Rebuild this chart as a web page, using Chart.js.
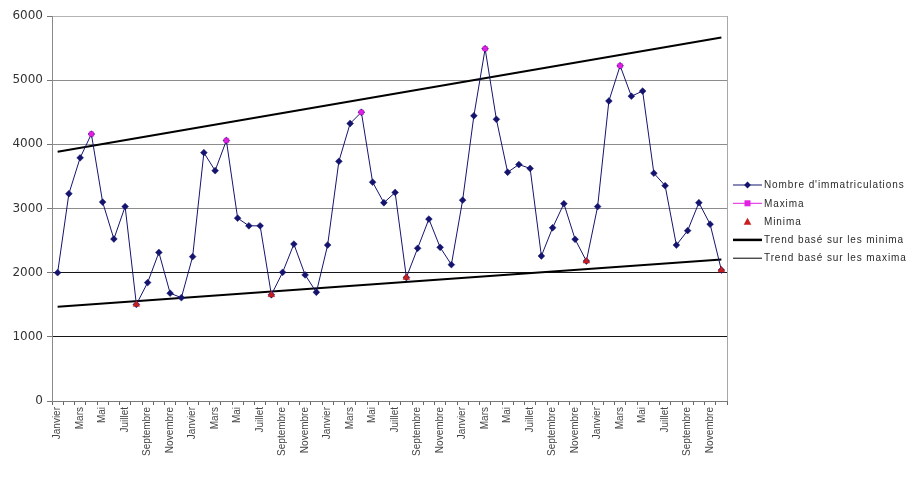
<!DOCTYPE html>
<html lang="fr">
<head>
<meta charset="utf-8">
<title>Nombre d'immatriculations</title>
<script src="https://cdn.jsdelivr.net/npm/chart.js@4/dist/chart.umd.min.js"></script>
<style>
  html, body { margin: 0; padding: 0; background: #fff; }
  #wrap { width: 911px; height: 478px; }
</style>
</head>
<body>
<div id="wrap"><canvas id="c" width="911" height="478"></canvas></div>
<script>
// Mois (5 années consécutives)
const moisAnnee = ['Janvier', 'Février', 'Mars', 'Avril', 'Mai', 'Juin',
                   'Juillet', 'Août', 'Septembre', 'Octobre', 'Novembre', 'Décembre'];
const mois = [].concat(moisAnnee, moisAnnee, moisAnnee, moisAnnee, moisAnnee);

// Nombre d'immatriculations par mois
const annee1 = [2000, 3230, 3790, 4160, 3100, 2525, 3030, 1505, 1845, 2315, 1680, 1610];
const annee2 = [2250, 3870, 3590, 4060, 2850, 2730, 2730, 1655, 2005, 2445, 1965, 1695];
const annee3 = [2430, 3735, 4325, 4500, 3410, 3090, 3250, 1925, 2380, 2835, 2395, 2125];
const annee4 = [3130, 4445, 5490, 4390, 3565, 3685, 3625, 2260, 2700, 3075, 2520, 2180];
const annee5 = [3030, 4675, 5225, 4750, 4830, 3550, 3355, 2430, 2655, 3090, 2755, 2040];
const immatriculations = [].concat(annee1, annee2, annee3, annee4, annee5);

// Rangs des maxima et minima annuels
const rangsMaxima = [3, 15, 27, 38, 50];
const rangsMinima = [7, 19, 31, 47, 59];

// Droites de tendance : valeurs au premier et au dernier mois
const trendMinimaDebutFin = [1470, 2205];
const trendMaximaDebutFin = [3885, 5665];

// Graduations de l'axe vertical
const yTicks = [0, 1000, 2000, 3000, 4000, 5000, 6000];

const n = mois.length;
const maxima = mois.map((_, i) => rangsMaxima.includes(i) ? immatriculations[i] : null);
const minima = mois.map((_, i) => rangsMinima.includes(i) ? immatriculations[i] : null);
const droite = (ends) => mois.map((_, i) => i === 0 ? ends[0] : (i === n - 1 ? ends[1] : null));

const NAVY = '#14146e';
const MAGENTA = '#e21ee2';
const ROUGE = '#c81e1e';

// Légende dessinée à droite de la zone de tracé
const legendItems = [
  { text: "Nombre d'immatriculations", line: NAVY, lw: 1, marker: 'rectRot', mc: NAVY, r: 3.4 },
  { text: 'Maxima', line: MAGENTA, lw: 1, marker: 'rect', mc: MAGENTA, r: 3 },
  { text: 'Minima', line: null, lw: 0, marker: 'triangle', mc: ROUGE, r: 3.8 },
  { text: 'Trend basé sur les minima', line: '#000', lw: 2.5, marker: null },
  { text: 'Trend basé sur les maxima', line: '#000', lw: 1, marker: null }
];

function drawMarkerPath(ctx, style, x, y, r) {
  if (style === 'rectRot') {
    ctx.moveTo(x, y - r); ctx.lineTo(x + r, y); ctx.lineTo(x, y + r); ctx.lineTo(x - r, y); ctx.closePath();
  } else if (style === 'rect') {
    ctx.rect(x - r, y - r, 2 * r, 2 * r);
  } else if (style === 'triangle') {
    ctx.moveTo(x, y - r); ctx.lineTo(x + r, y + r * 0.8); ctx.lineTo(x - r, y + r * 0.8); ctx.closePath();
  }
}

const legendPlugin = {
  id: 'sideLegend',
  afterDraw(chart) {
    const ctx = chart.ctx;
    const area = chart.chartArea;
    ctx.save();
    // bordure droite de la zone de tracé
    ctx.strokeStyle = '#a8a8a8';
    ctx.lineWidth = 1;
    ctx.beginPath();
    ctx.moveTo(Math.round(area.right) + 0.5, area.top);
    ctx.lineTo(Math.round(area.right) + 0.5, area.bottom);
    ctx.stroke();

    const x0 = area.right + 6;
    const x1 = area.right + 35;
    const xm = (x0 + x1) / 2;
    let y = 185;
    ctx.font = '10px "Liberation Sans", Arial, sans-serif';
    if ('letterSpacing' in ctx) ctx.letterSpacing = '0.9px';
    ctx.textBaseline = 'middle';
    ctx.textAlign = 'left';
    legendItems.forEach(it => {
      if (it.line) {
        ctx.strokeStyle = it.line;
        ctx.lineWidth = it.lw;
        ctx.beginPath();
        ctx.moveTo(x0, y);
        ctx.lineTo(x1, y);
        ctx.stroke();
      }
      if (it.marker) {
        ctx.fillStyle = it.mc;
        ctx.beginPath();
        drawMarkerPath(ctx, it.marker, xm, y, it.r);
        ctx.fill();
      }
      ctx.fillStyle = '#2a2a2a';
      ctx.fillText(it.text, x1 + 2, y + 0.5);
      y += 18.3;
    });
    ctx.restore();
  }
};

const yGridColor = (c) => {
  const v = c.tick && c.tick.value;
  if (v === 6000) return '#b4b4b4';
  if (v === 2000 || v === 1000) return '#161616';
  if (v === 0) return '#8a8a8a';
  return '#8c8c8c';
};

new Chart(document.getElementById('c'), {
  type: 'line',
  data: {
    labels: mois,
    datasets: [
      {
        label: "Nombre d'immatriculations",
        data: immatriculations,
        borderColor: NAVY,
        backgroundColor: NAVY,
        borderWidth: 1,
        pointStyle: 'rectRot',
        pointRadius: 3.4,
        pointBorderWidth: 0.5,
        tension: 0,
        order: 2
      },
      {
        label: 'Maxima',
        data: maxima,
        showLine: false,
        borderColor: MAGENTA,
        backgroundColor: MAGENTA,
        pointStyle: 'rect',
        pointRadius: 3.2,
        pointBorderWidth: 0.5,
        order: 0
      },
      {
        label: 'Minima',
        data: minima,
        showLine: false,
        borderColor: ROUGE,
        backgroundColor: ROUGE,
        pointStyle: 'triangle',
        pointRadius: 3.8,
        pointBorderWidth: 0.5,
        order: 1
      },
      {
        label: 'Trend basé sur les minima',
        data: droite(trendMinimaDebutFin),
        borderColor: '#000',
        borderWidth: 2,
        pointRadius: 0,
        spanGaps: true,
        order: 3
      },
      {
        label: 'Trend basé sur les maxima',
        data: droite(trendMaximaDebutFin),
        borderColor: '#000',
        borderWidth: 2,
        pointRadius: 0,
        spanGaps: true,
        order: 3
      }
    ]
  },
  options: {
    responsive: false,
    animation: false,
    events: [],
    layout: { padding: { left: 0, top: 16, right: 184, bottom: 0 } },
    plugins: {
      legend: { display: false },
      tooltip: { enabled: false },
      title: { display: false }
    },
    scales: {
      x: {
        type: 'category',
        offset: true,
        afterFit: (s) => { s.height = 77; },
        grid: {
          offset: true,
          drawOnChartArea: false,
          drawTicks: true,
          tickLength: 4,
          color: '#666'
        },
        border: { color: '#7a7a7a', width: 1 },
        ticks: {
          autoSkip: false,
          maxRotation: 90,
          minRotation: 90,
          padding: 2,
          color: '#444',
          font: { family: '"Liberation Sans", Arial, sans-serif', size: 10 },
          callback: function (val, i) { return i % 2 === 0 ? this.getLabelForValue(val) : ''; }
        }
      },
      y: {
        min: 0,
        max: 6000,
        afterFit: (s) => { s.width = 52; },
        afterBuildTicks: (s) => { s.ticks = yTicks.map(v => ({ value: v })); },
        grid: {
          color: yGridColor,
          tickColor: '#777',
          tickLength: 5,
          lineWidth: 1
        },
        border: { color: '#8a8a8a', width: 1 },
        ticks: {
          padding: 4,
          color: '#333',
          font: { family: '"DejaVu Sans", sans-serif', size: 12 },
          callback: (v) => String(v)
        }
      }
    }
  },
  plugins: [legendPlugin]
});
</script>
</body>
</html>
